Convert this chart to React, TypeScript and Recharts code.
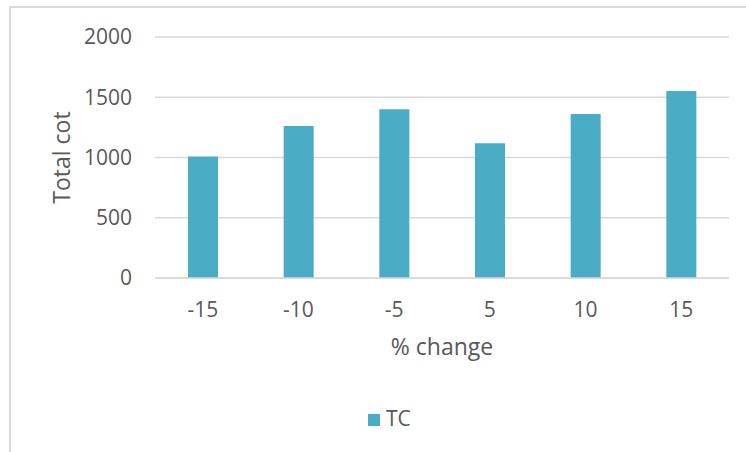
import React from 'react';
import { BarChart, Bar, XAxis, YAxis, CartesianGrid, Legend, Label } from 'recharts';

const categories = ['-15', '-10', '-5', '5', '10', '15'];
const tcValues = [1008, 1262, 1400, 1118, 1361, 1552];
const yTicks = [0, 500, 1000, 1500, 2000];
const seriesName = 'TC';
const xTitle = '% change';
const yTitle = 'Total cot';

const data = categories.map((c, i) => ({ category: c, TC: tcValues[i] }));

const FONT = '"Open Sans", sans-serif';
const TEXT = '#595959';
const GRID = '#d9d9d9';
const BAR = '#4BACC6';

const renderLegend = (props: any) => {
  const item = props.payload && props.payload[0];
  return (
    <svg width={746} height={40} style={{ display: 'block' }}>
      <rect x={368} y={9} width={12} height={12} fill={(item && item.color) || BAR} />
      <text x={386} y={21} fontFamily={FONT} fontSize={21} fill={TEXT}>
        {item ? item.value : seriesName}
      </text>
    </svg>
  );
};

const YTitle = (props: any) => {
  const vb = props.viewBox || { x: 0, y: 37, width: 155, height: 241 };
  const cy = vb.y + vb.height / 2;
  const x = vb.x + 70;
  return (
    <text
      x={x}
      y={cy}
      transform={`rotate(-90, ${x}, ${cy})`}
      textAnchor="middle"
      fontFamily={FONT}
      fontSize={23}
      fill={TEXT}
    >
      {yTitle}
    </text>
  );
};

export default function App() {
  return (
    <div style={{ position: 'absolute', left: 0, top: 0, width: 746, height: 452, overflow: 'hidden', background: '#fff' }}>
      <div style={{ position: 'absolute', left: 9, top: 6, width: 800, height: 520, border: '2px solid #d9d9d9', boxSizing: 'border-box' }} />
      <div style={{ position: 'absolute', left: 0, top: 0 }}>
        <BarChart width={746} height={452} data={data} margin={{ top: 37, right: 17, left: 0, bottom: 104 }}>
          <CartesianGrid vertical={false} stroke={GRID} strokeWidth={1.5} />
          <XAxis
            dataKey="category"
            height={70}
            tickSize={0}
            tickMargin={24}
            tickLine={false}
            axisLine={{ stroke: GRID, strokeWidth: 1.5 }}
            tick={{ fontFamily: FONT, fontSize: 21, fill: TEXT }}
          >
            <Label value={xTitle} position="insideBottom" offset={-7} style={{ fontFamily: FONT, fontSize: 23, fill: TEXT }} />
          </XAxis>
          <YAxis
            width={155}
            domain={[0, 2000]}
            ticks={yTicks}
            tickSize={0}
            tickMargin={23}
            tickLine={false}
            axisLine={false}
            tick={{ fontFamily: FONT, fontSize: 21, fill: TEXT }}
          >
            <Label content={<YTitle />} />
          </YAxis>
          <Legend
            layout="horizontal"
            verticalAlign="middle"
            align="center"
            content={renderLegend}
            wrapperStyle={{ top: 405, left: 0, width: 746 }}
          />
          <Bar dataKey="TC" name={seriesName} fill={BAR} barSize={30} isAnimationActive={false} />
        </BarChart>
      </div>
    </div>
  );
}
